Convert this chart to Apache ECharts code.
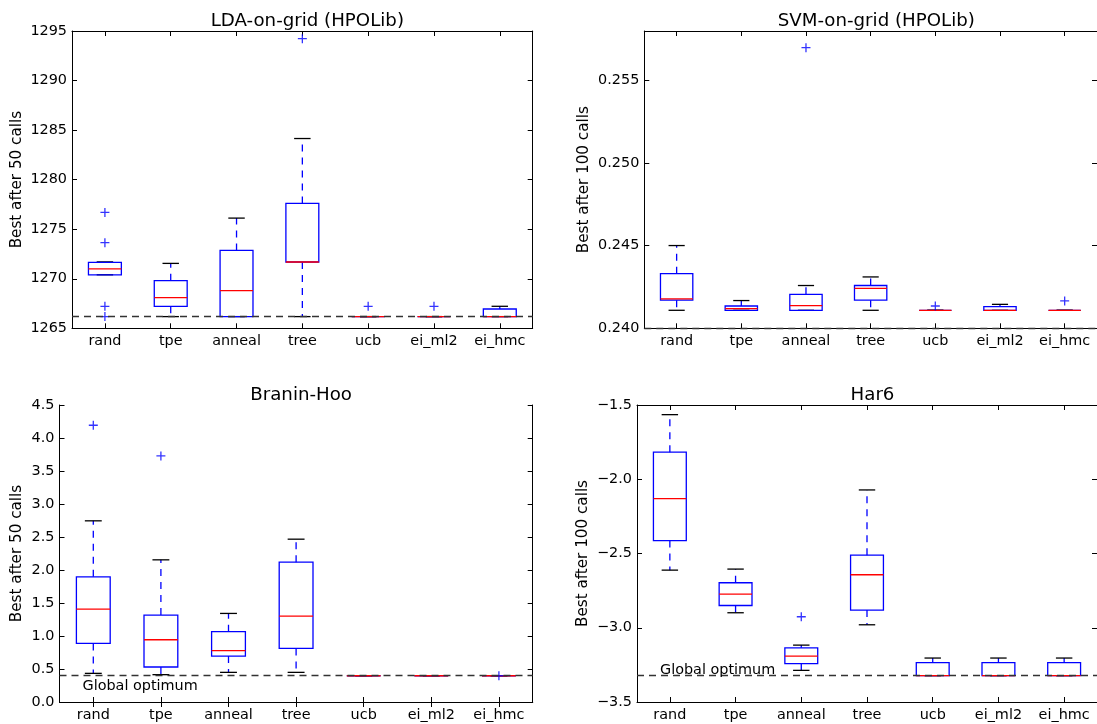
<!DOCTYPE html>
<html>
<head>
<meta charset="utf-8">
<script src="https://cdn.jsdelivr.net/npm/echarts@6/dist/echarts.min.js"></script>
<style>
html,body{margin:0;padding:0;background:#fff;}
#chart{width:1097px;height:724px;}
</style>
</head>
<body>
<div id="chart"></div>
<script>
// ---------------- data ----------------
const categories = ['rand', 'tpe', 'anneal', 'tree', 'ucb', 'ei_ml2', 'ei_hmc'];

// each row: [lower whisker, Q1, median, Q3, upper whisker]
const ldaStats = [
  [1270.4, 1270.4, 1271.0, 1271.65, 1271.7],
  [1266.18, 1267.22, 1268.1, 1269.81, 1271.55],
  [1266.18, 1266.18, 1268.8, 1272.86, 1276.12],
  [1266.18, 1271.69, 1271.69, 1277.6, 1284.15],
  [1266.18, 1266.18, 1266.18, 1266.18, 1266.18],
  [1266.18, 1266.18, 1266.18, 1266.18, 1266.18],
  [1266.18, 1266.18, 1266.18, 1266.95, 1267.22]
];
const ldaOutliers = [[0, 1276.69], [0, 1273.64], [0, 1267.22], [0, 1266.18], [3, 1294.23], [4, 1267.22], [5, 1267.22]];
const ldaOptimum = 1266.18;

const svmStats = [
  [0.24109, 0.24170, 0.24178, 0.24331, 0.24501],
  [0.24109, 0.24109, 0.24119, 0.24135, 0.24168],
  [0.24109, 0.24109, 0.24137, 0.24206, 0.24259],
  [0.24109, 0.24170, 0.24242, 0.24259, 0.24311],
  [0.24109, 0.24109, 0.24109, 0.24109, 0.24109],
  [0.24109, 0.24109, 0.24109, 0.24131, 0.24145],
  [0.24109, 0.24109, 0.24109, 0.24109, 0.24109]
];
const svmOutliers = [[2, 0.25699], [4, 0.24135], [6, 0.24166]];
const svmOptimum = 0.24109;

const braninStats = [
  [0.434, 0.888, 1.408, 1.897, 2.745],
  [0.414, 0.530, 0.943, 1.317, 2.154],
  [0.449, 0.696, 0.777, 1.065, 1.342],
  [0.449, 0.812, 1.302, 2.119, 2.467],
  [0.398, 0.398, 0.398, 0.398, 0.398],
  [0.398, 0.398, 0.398, 0.398, 0.398],
  [0.398, 0.398, 0.398, 0.398, 0.398]
];
const braninOutliers = [[0, 4.193], [1, 3.729], [6, 0.399]];
const braninOptimum = 0.398;

const har6Stats = [
  [-2.612, -2.413, -2.130, -1.818, -1.565],
  [-2.899, -2.850, -2.774, -2.697, -2.605],
  [-3.287, -3.242, -3.191, -3.135, -3.117],
  [-2.980, -2.881, -2.643, -2.511, -2.072],
  [-3.323, -3.323, -3.323, -3.235, -3.204],
  [-3.323, -3.323, -3.323, -3.235, -3.204],
  [-3.323, -3.323, -3.323, -3.235, -3.204]
];
const har6Outliers = [[2, -2.926]];
const har6Optimum = -3.323;

const titles = ['LDA-on-grid (HPOLib)', 'SVM-on-grid (HPOLib)', 'Branin-Hoo', 'Har6'];
const yNames = ['Best after 50 calls', 'Best after 100 calls', 'Best after 50 calls', 'Best after 100 calls'];
const yTicks = [
  {min: 1265, max: 1295, interval: 5},
  {min: 0.240, max: 0.258, interval: 0.005},
  {min: 0.0, max: 4.5, interval: 0.5},
  {min: -3.5, max: -1.5, interval: 0.5}
];
const optimumLabel = 'Global optimum';

// ---------------- styling / layout ----------------
const FONT = 'DejaVu Sans';
const FS = 14.4;
const NAME_FS = 15.2;
const BLUE = '#0000ff';
const LW = 1.3;
const grids = [
  {left: 72, top: 31, width: 460.7, height: 297.3},
  {left: 644.3, top: 31, width: 454, height: 297.3},
  {left: 59.5, top: 405, width: 473.2, height: 297},
  {left: 637, top: 405, width: 461, height: 297}
];
const nameGaps = [47, 53, 34.5, 46];
const titleTops = [7, 7, 381, 381];
const formatters = [
  v => String(Math.round(v)),
  v => { const k = v / 0.005; return Math.abs(k - Math.round(k)) < 1e-6 ? v.toFixed(3) : ''; },
  v => v.toFixed(1),
  v => v.toFixed(1).replace('-', '\u2212')
];

function renderBox(params, api) {
  const x = api.value(0);
  const lo = api.value(1), q1 = api.value(2), md = api.value(3), q3 = api.value(4), hi = api.value(5);
  const band = api.size([1, 0])[0];
  const c = api.coord([x, md])[0];
  const y = v => api.coord([x, v])[1];
  const bw = band * 0.5, cw = band * 0.25;
  const dashed = {stroke: BLUE, lineWidth: LW, lineDash: [7, 6], fill: null};
  const cap = {stroke: '#000', lineWidth: LW, fill: null};
  return {
    type: 'group',
    children: [
      {type: 'line', shape: {x1: c, y1: y(q3), x2: c, y2: y(hi)}, style: dashed},
      {type: 'line', shape: {x1: c, y1: y(q1), x2: c, y2: y(lo)}, style: dashed},
      {type: 'line', shape: {x1: c - cw / 2, y1: y(hi), x2: c + cw / 2, y2: y(hi)}, style: cap},
      {type: 'line', shape: {x1: c - cw / 2, y1: y(lo), x2: c + cw / 2, y2: y(lo)}, style: cap},
      {type: 'rect', shape: {x: c - bw / 2, y: y(q3), width: bw, height: y(q1) - y(q3)},
        style: {stroke: BLUE, lineWidth: LW, fill: null}},
      {type: 'line', shape: {x1: c - bw / 2, y1: y(md), x2: c + bw / 2, y2: y(md)},
        style: {stroke: '#ff0000', lineWidth: LW, fill: null}}
    ]
  };
}

const statsList = [ldaStats, svmStats, braninStats, har6Stats];
const outlierList = [ldaOutliers, svmOutliers, braninOutliers, har6Outliers];
const optimumList = [ldaOptimum, svmOptimum, braninOptimum, har6Optimum];

const option = {
  animation: false,
  backgroundColor: '#fff',
  textStyle: {fontFamily: FONT},
  title: [], grid: [], xAxis: [], yAxis: [], series: []
};

for (let i = 0; i < 4; i++) {
  const g = grids[i];
  option.grid.push({left: g.left, top: g.top, width: g.width, height: g.height, containLabel: false});
  option.title.push({
    text: titles[i], left: g.left + g.width / 2, top: titleTops[i], textAlign: 'center',
    textStyle: {fontFamily: FONT, fontSize: 18.2, fontWeight: 'normal', color: '#000'}
  });
  const axLine = {show: true, lineStyle: {color: '#000', width: 1}};
  const tick = {show: true, inside: true, length: 5, lineStyle: {color: '#000', width: 1}};
  option.xAxis.push({
    type: 'category', gridIndex: i, data: categories, position: 'bottom', boundaryGap: true,
    axisLine: axLine, axisTick: Object.assign({alignWithLabel: true}, tick),
    axisLabel: {color: '#000', fontSize: FS, fontFamily: FONT, margin: 6, interval: 0},
    splitLine: {show: false}
  });
  option.xAxis.push({
    type: 'category', gridIndex: i, data: categories, position: 'top', boundaryGap: true,
    axisLine: axLine, axisTick: Object.assign({alignWithLabel: true}, tick),
    axisLabel: {show: false}, splitLine: {show: false}
  });
  const t = yTicks[i];
  option.yAxis.push({
    type: 'value', gridIndex: i, position: 'left', min: t.min, max: t.max, interval: t.interval,
    axisLine: axLine, axisTick: tick, splitLine: {show: false},
    axisLabel: {color: '#000', fontSize: FS, fontFamily: FONT, margin: 5, formatter: formatters[i], showMaxLabel: i !== 1},
    name: yNames[i], nameLocation: 'middle', nameGap: nameGaps[i],
    nameTextStyle: {color: '#000', fontSize: NAME_FS, fontFamily: FONT}
  });
  option.yAxis.push({
    type: 'value', gridIndex: i, position: 'right', min: t.min, max: t.max, interval: t.interval,
    axisLine: axLine, axisTick: tick, splitLine: {show: false}, axisLabel: {show: false}
  });

  option.series.push({
    type: 'custom', xAxisIndex: 2 * i, yAxisIndex: 2 * i,
    renderItem: renderBox,
    encode: {x: 0, y: [1, 2, 3, 4, 5]},
    data: statsList[i].map((s, k) => [k].concat(s)),
    silent: true, z: 2
  });

  const ml = {
    silent: true, symbol: ['none', 'none'],
    lineStyle: {type: [7, 5], color: '#333', width: 1.3},
    label: {show: false},
    data: [{yAxis: optimumList[i]}]
  };
  if (i === 2) {
    ml.label = {show: true, formatter: optimumLabel, position: 'insideStartBottom', distance: [23, 4],
      color: '#000', fontSize: FS, fontFamily: FONT};
  } else if (i === 3) {
    ml.label = {show: true, formatter: optimumLabel, position: 'insideStartTop', distance: [23, -2],
      color: '#000', fontSize: FS, fontFamily: FONT};
  }
  option.series.push({
    type: 'scatter', xAxisIndex: 2 * i, yAxisIndex: 2 * i,
    data: outlierList[i],
    symbol: 'path://M0,-1L0,1M-1,0L1,0',
    symbolSize: 9,
    itemStyle: {color: 'none', borderColor: BLUE, borderWidth: 1.3},
    silent: true, z: 3,
    markLine: ml
  });
}

const chart = echarts.init(document.getElementById('chart'), null, {renderer: 'canvas'});
chart.setOption(option);
</script>
</body>
</html>
